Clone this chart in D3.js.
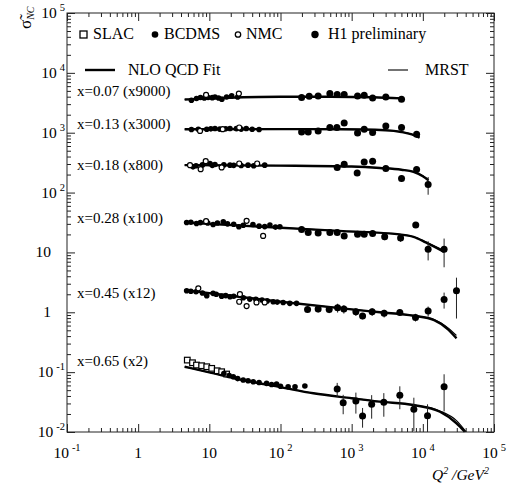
<!DOCTYPE html>
<html>
<head>
<meta charset="utf-8">
<script src="https://cdn.jsdelivr.net/npm/d3@7"></script>
<style>
  body { margin: 0; background: #fff; }
  svg { display: block; font-family: "Liberation Serif", "Times New Roman", serif; }
</style>
</head>
<body>
<svg id="chart" width="510" height="489"></svg>
<script>
// x bins, top to bottom
const binLabels = ["x=0.07 (x9000)", "x=0.13 (x3000)", "x=0.18 (x800)", "x=0.28 (x100)", "x=0.45 (x12)", "x=0.65 (x2)"];

// [bin, Q2, sigma]
const bcdms = [
  [0,5.6,3490],[0,6.6,3720],[0,7.5,3870],[0,8.5,3800],[0,9.6,3870],[0,11,3850],[0,12,3960],[0,13.5,3800],[0,15,3620],[0,17.5,3960],[0,20.6,4120],[0,25,3950],
  [1,5.6,1130],[1,7,1140],[1,9.2,1144],[1,10.5,1160],[1,12,1175],[1,14,1150],[1,17,1160],[1,19.5,1175],[1,24,1170],[1,28,1150],[1,33,1175],[1,40,1140],[1,50,1131],
  [2,5.9,269],[2,6.5,280],[2,8,290],[2,10.2,306],[2,11,285],[2,12,295],[2,16,290],[2,19.5,287],[2,22,285],[2,28,283],[2,35,287],[2,42,280],[2,60,287],
  [3,4.8,31.7],[3,5.5,32],[3,6.6,30.5],[3,7.5,31.5],[3,9.5,31],[3,11.3,29.3],[3,13,31],[3,15.7,32.4],[3,18,30],[3,22,29.5],[3,26,26.8],[3,30,28.5],[3,41,29.3],[3,50,27.5],[3,60,27],[3,71,28.6],[3,85,26.5],[3,98,26.8],
  [4,4.8,2.29],[4,5.5,2.25],[4,6.5,2.2],[4,8,2.1],[4,9.2,1.89],[4,11.3,2.07],[4,12.5,2.0],[4,14.9,1.86],[4,17,1.9],[4,19.5,1.82],[4,22,1.85],[4,30,1.75],[4,37,1.66],[4,45,1.65],[4,55,1.6],[4,65,1.55],[4,79,1.5],[4,90,1.48],[4,109,1.46],[4,135,1.41],[4,168,1.41],
  [5,16,0.095],[5,19,0.088],[5,21.7,0.0838],[5,25,0.078],[5,29.9,0.0738],[5,35,0.072],[5,41.4,0.0692],[5,50,0.067],[5,63.8,0.065],[5,75,0.062],[5,88,0.0633],[5,100,0.058],[5,128,0.0571],[5,160,0.057],[5,220,0.0586]
];

const nmc = [
  [0,9.0,4280],[0,26,4510],
  [1,7.4,1072],[1,15.4,1144],[1,26.3,1221],
  [2,5.35,287],[2,7.55,246],[2,8.9,334],[2,14.9,263],[2,26.3,306],[2,47,306],
  [3,9.0,33.3],[3,33.4,33.7],[3,57,18.9],
  [4,7.0,2.51],[4,26.9,2.01],[4,26.3,1.5],[4,33.4,1.27],[4,46,1.46],[4,60,1.46]
];

const slac = [
  [5,4.9,0.159],[5,5.8,0.1435],[5,6.6,0.1314],[5,7.8,0.128],[5,9.2,0.1231],[5,10.8,0.1157],[5,12.9,0.1055],[5,14.9,0.1016],[5,17.5,0.093]
];

// [bin, Q2, sigma, error]
const h1 = [
  [0,198,3870,150],[0,253,4070,150],[0,338,4120,150],[0,494,4510,200],[0,626,4350,200],[0,785,4350,200],[0,1210,4120,200],[0,1500,4230,200],[0,1970,3810,200],[0,3020,3960,250],[0,5020,3620,300],
  [1,198,1031,40],[1,245,1031,40],[1,338,1072,40],[1,494,1221,50],[1,620,1221,50],[1,785,1457,60],[1,1210,992,60],[1,1500,1144,60],[1,1970,1008,60],[1,3020,1299,80],[1,5020,1221,90],[1,8180,944,120],
  [2,626,262,15],[2,785,298,15],[2,1195,213,15],[2,1500,325,15],[2,1970,334,18],[2,3020,253,20],[2,5020,172,20],[2,8180,243,25],[2,11870,137,45],
  [3,198,24.2,1.5],[3,245,21.6,1.5],[3,338,21.2,1.5],[3,494,21.6,1.8],[3,626,21.6,1.8],[3,785,18.9,1.8],[3,1210,20.2,1.8],[3,1500,20.2,1.8],[3,1970,20.8,2],[3,2910,18.2,2.2],[3,4870,17.5,2.5],[3,7950,28.6,3],[3,11870,11.35,4],[3,19900,11.35,5.7],
  [4,240,1.118,0.12],[4,338,1.131,0.14],[4,483,1.118,0.15],[4,634,1.189,0.2],[4,777,1.131,0.18],[4,1146,1.019,0.15],[4,1423,0.864,0.1],[4,1940,1.019,0.15],[4,2860,0.959,0.14],[4,4750,0.996,0.12],[4,7890,0.822,0.12],[4,11870,1.047,0.2],[4,19900,1.642,0.49],[4,29700,2.286,1.5],
  [5,626,0.0522,0.0139],[5,760,0.0308,0.011],[5,1146,0.0329,0.0126],[5,1423,0.0185,0.0067],[5,1910,0.029,0.0123],[5,2830,0.0313,0.0133],[5,4750,0.041,0.017],[5,7480,0.0239,0.0135],[5,11640,0.0187,0.0103],[5,19900,0.0571,0.035]
];

// NLO QCD fit, [Q2, sigma] per bin
const nloFit = [
  [[4.5,3580],[10,3750],[30,3920],[100,3980],[500,4000],[2000,3920],[5000,3750]],
  [[4.5,1140],[100,1150],[700,1144],[3000,1100],[5000,1030],[7000,940],[9000,830]],
  [[4.5,287],[100,282],[1000,272],[2500,258],[5000,241],[7400,222],[10000,188],[12000,160]],
  [[4.5,31.7],[10,30.0],[100,25.8],[760,22.7],[4700,20.0],[7400,18.2],[11000,14.7],[19900,10.2]],
  [[4.5,2.35],[10,2.09],[100,1.5],[1000,1.12],[2500,1.0],[7400,0.874],[14400,0.741],[22600,0.518],[29700,0.367]],
  [[4.5,0.123],[10,0.099],[33,0.0718],[100,0.0562],[290,0.0443],[1000,0.0367],[2500,0.0321],[7400,0.0282],[17400,0.0218],[29700,0.014],[38900,0.0101]]
];

// MRST
const mrst = [
  [[4.5,3580],[10,3750],[30,3920],[100,3980],[500,4000],[2000,3920],[5000,3760]],
  [[4.5,1140],[100,1150],[700,1144],[3000,1100],[5000,1035],[7000,945],[9000,840]],
  [[4.5,287],[100,282],[1000,272],[2500,258],[5000,242],[7400,224],[10000,192],[12000,165]],
  [[4.5,31.7],[10,30.0],[100,25.8],[760,22.7],[4700,20.0],[7400,18.3],[11000,15.0],[19900,10.8]],
  [[4.5,2.35],[10,2.09],[100,1.5],[1000,1.12],[2500,1.0],[7400,0.88],[14400,0.76],[22600,0.55],[29700,0.41]],
  [[4.5,0.123],[10,0.099],[33,0.0718],[100,0.0562],[290,0.0443],[1000,0.0367],[2500,0.0321],[7400,0.0284],[17400,0.0225],[29700,0.0155],[40500,0.0101]]
];

const xDecades = [-1, 0, 1, 2, 3, 4, 5];
const yDecades = [-2, -1, 0, 1, 2, 3, 4, 5];

// layout
const plot = { left: 67, right: 494, top: 13, bottom: 432 };
const labelBaseline = [96, 129, 170, 223, 298, 366];

const svg = d3.select('#chart');

const x = d3.scaleLog().domain([0.1, 1e5]).range([plot.left, plot.right]);
const y = d3.scaleLog().domain([0.01, 1e5]).range([plot.bottom, plot.top]);

const minors = (decs) => {
  const out = [];
  for (let i = 0; i < decs.length - 1; i++)
    for (let m = 2; m < 10; m++) out.push(m * Math.pow(10, decs[i]));
  return out;
};
const xMajor = xDecades.map(e => Math.pow(10, e));
const yMajor = yDecades.map(e => Math.pow(10, e));

function addAxis(axisFn, scale, values, size, transform) {
  const g = svg.append('g')
    .attr('transform', transform)
    .call(axisFn(scale).tickValues(values).tickSize(-size).tickFormat(''));
  g.select('.domain').remove();
  g.selectAll('.tick line').attr('stroke', '#222').attr('stroke-width', 1);
}

addAxis(d3.axisBottom, x, xMajor, 8, `translate(0,${plot.bottom})`);
addAxis(d3.axisBottom, x, minors(xDecades), 4, `translate(0,${plot.bottom})`);
addAxis(d3.axisTop, x, xMajor, 8, `translate(0,${plot.top})`);
addAxis(d3.axisTop, x, minors(xDecades), 4, `translate(0,${plot.top})`);
addAxis(d3.axisLeft, y, yMajor, 8, `translate(${plot.left},0)`);
addAxis(d3.axisLeft, y, minors(yDecades), 4, `translate(${plot.left},0)`);
addAxis(d3.axisRight, y, yMajor, 8, `translate(${plot.right},0)`);
addAxis(d3.axisRight, y, minors(yDecades), 4, `translate(${plot.right},0)`);

svg.append('rect')
  .attr('x', plot.left).attr('y', plot.top)
  .attr('width', plot.right - plot.left).attr('height', plot.bottom - plot.top)
  .attr('fill', 'none').attr('stroke', '#222').attr('stroke-width', 1);

// tick labels
function powLabel(sel, e) {
  if (e === 0) { sel.text('1'); return; }
  if (e === 1) { sel.text('10'); return; }
  sel.append('tspan').text('10');
  sel.append('tspan').attr('dx', 3).attr('dy', -7).attr('font-size', 10.5).text(e);
}

xDecades.forEach(e => {
  const t = svg.append('text')
    .attr('x', x(Math.pow(10, e))).attr('y', 458)
    .attr('text-anchor', 'middle').attr('font-size', 15.5);
  powLabel(t, e);
});

yDecades.forEach(e => {
  const plain = e === 0 || e === 1;
  const t = svg.append('text')
    .attr('x', plain ? 51 : 65).attr('y', y(Math.pow(10, e)) + 5)
    .attr('text-anchor', 'end').attr('font-size', 15.5);
  powLabel(t, e);
});

// axis titles
const xt = svg.append('text').attr('x', 432).attr('y', 480)
  .attr('font-size', 15.5).attr('font-style', 'italic');
xt.append('tspan').text('Q');
xt.append('tspan').attr('dy', -6).attr('font-size', 10).text('2');
xt.append('tspan').attr('dy', 6).text(' /GeV');
xt.append('tspan').attr('dy', -6).attr('font-size', 10).text('2');

const yt = svg.append('text').attr('transform', 'translate(31,29) rotate(-90)').attr('font-size', 17);
yt.append('tspan').text('\u03C3\u0303');
yt.append('tspan').attr('dy', 3).attr('font-size', 10).attr('font-style', 'italic').text('NC');

// bin labels
binLabels.forEach((lab, i) => {
  svg.append('text').attr('x', 77).attr('y', labelBaseline[i])
    .attr('font-size', 15).text(lab);
});

// curves
const line = d3.line().x(d => x(d[0])).y(d => y(d[1])).curve(d3.curveMonotoneX);
svg.append('g').selectAll('path').data(mrst).join('path')
  .attr('d', line).attr('fill', 'none').attr('stroke', '#000').attr('stroke-width', 1.1);
svg.append('g').selectAll('path').data(nloFit).join('path')
  .attr('d', line).attr('fill', 'none').attr('stroke', '#000').attr('stroke-width', 2.4);

// error bars (H1)
svg.append('g').selectAll('line').data(h1).join('line')
  .attr('x1', d => x(d[1])).attr('x2', d => x(d[1]))
  .attr('y1', d => Math.min(plot.bottom, y(Math.max(d[2] - d[3], 0.001))))
  .attr('y2', d => y(d[2] + d[3]))
  .attr('stroke', '#222').attr('stroke-width', 1);

// points
svg.append('g').selectAll('rect').data(slac).join('rect')
  .attr('x', d => x(d[1]) - 2.8).attr('y', d => y(d[2]) - 2.8)
  .attr('width', 5.6).attr('height', 5.6)
  .attr('fill', '#fff').attr('stroke', '#000').attr('stroke-width', 1.2);
svg.append('g').selectAll('circle').data(bcdms).join('circle')
  .attr('cx', d => x(d[1])).attr('cy', d => y(d[2])).attr('r', 2.8).attr('fill', '#000');
svg.append('g').selectAll('circle').data(nmc).join('circle')
  .attr('cx', d => x(d[1])).attr('cy', d => y(d[2])).attr('r', 2.5)
  .attr('fill', '#fff').attr('stroke', '#000').attr('stroke-width', 1.2);
svg.append('g').selectAll('circle').data(h1).join('circle')
  .attr('cx', d => x(d[1])).attr('cy', d => y(d[2])).attr('r', 3.5).attr('fill', '#000');

// legend
const lg = svg.append('g').attr('font-size', 16);
lg.append('rect').attr('x', 80).attr('y', 31).attr('width', 7).attr('height', 7)
  .attr('fill', '#fff').attr('stroke', '#000').attr('stroke-width', 1.3);
lg.append('text').attr('x', 93).attr('y', 39).text('SLAC');
lg.append('circle').attr('cx', 155).attr('cy', 34.5).attr('r', 3.3).attr('fill', '#000');
lg.append('text').attr('x', 164).attr('y', 39).text('BCDMS');
lg.append('circle').attr('cx', 238).attr('cy', 34.5).attr('r', 2.7)
  .attr('fill', '#fff').attr('stroke', '#000').attr('stroke-width', 1.3);
lg.append('text').attr('x', 246).attr('y', 39).text('NMC');
lg.append('circle').attr('cx', 315).attr('cy', 34.5).attr('r', 3.7).attr('fill', '#000');
lg.append('text').attr('x', 328).attr('y', 39).text('H1 preliminary');
lg.append('line').attr('x1', 85).attr('x2', 115).attr('y1', 70).attr('y2', 70)
  .attr('stroke', '#000').attr('stroke-width', 2.4);
lg.append('text').attr('x', 128).attr('y', 75).text('NLO QCD Fit');
lg.append('line').attr('x1', 388).attr('x2', 408).attr('y1', 70).attr('y2', 70)
  .attr('stroke', '#000').attr('stroke-width', 1.1);
lg.append('text').attr('x', 425).attr('y', 75).text('MRST');
</script>
</body>
</html>
